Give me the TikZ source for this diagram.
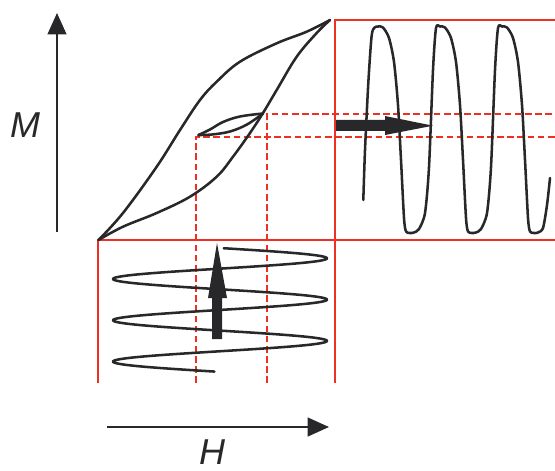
\documentclass[tikz,border=0pt]{standalone}
\usepackage{fontspec}
\setmainfont{Liberation Sans}
\usetikzlibrary{arrows.meta}
\definecolor{redline}{RGB}{238,48,34}
\definecolor{ink}{RGB}{40,40,42}
\tikzset{
  redsolid/.style={draw=redline, line width=2.1pt},
  reddash/.style={draw=redline, line width=2.1pt, dash pattern=on 5pt off 2.6pt},
  curve/.style={draw=ink, line width=1.9pt, line join=round, line cap=round},
  axis/.style={draw=ink, line width=1.7pt, -{Triangle[length=16pt, width=14pt]}},
  lbl/.style={font=\fontsize{27}{30}\selectfont\itshape, text=ink, inner sep=0pt},
  fatarrow/.style={fill=ink, draw=none}
}
\begin{document}
\begin{tikzpicture}[x=0.75pt, y=-0.75pt]
\useasboundingbox (0,0) rectangle (555,470);
% red frames
\draw[redsolid] (98,383) -- (98,240) -- (555,240);
\draw[redsolid] (335,383) -- (335,20) -- (555,20);
\draw[reddash] (196,383) -- (196,137) -- (555,137);
\draw[reddash] (267,383) -- (267,114) -- (555,114);
% axes
\coordinate (m0) at (57,232); \coordinate (m1) at (57,13);
\coordinate (h0) at (107,427); \coordinate (h1) at (329,427);
\draw[axis] (m0) -- (m1);
\draw[axis] (h0) -- (h1);
\node[lbl] (M) at (25,125) {M};
\node[lbl] (H) at (212,452) {H};
% hysteresis major loop
\draw[curve] plot[smooth, tension=0.6] coordinates {(98.5,240) (123,213) (156.7,166.7) (180,130) (200,100) (216.7,81.7) (240,61.7) (276.7,43.3) (306.7,31.7) (330,20)};
\draw[curve] plot[smooth, tension=0.6] coordinates {(98.5,240) (123,226.7) (156.7,213) (190,196.7) (216.7,176.7) (233,156.7) (250,133) (263,113) (276.7,90) (296.7,56.7) (316.7,33) (330,20)};
% minor loop
\draw[curve] plot[smooth, tension=0.6] coordinates {(198.5,135) (210,129.5) (223,122) (240,116.5) (263,113.5)};
\draw[curve] plot[smooth, tension=0.6] coordinates {(198.5,135) (212,134.5) (230,131.5) (247,124.5) (263,113.5)};
% spiral (bottom)
\draw[curve] plot[domain=2:1077, samples=300] ({220+107*sin(\x)}, {248+\x/360*41.3});
% vertical fat arrow
\fill[fatarrow] (212,339) -- (222,339) -- (222,298) -- (227,298) -- (217,243) -- (208,298) -- (212,298) -- cycle;
% square-ish wave (right)
\draw[curve] plot[smooth, tension=0.45] coordinates {
 (363.3,200) (365,150) (368.3,83) (371.5,37)
 (374,28) (378,26.5) (383,27.5) (389,38) (394,62) (398,105) (401,160) (404,218) (406,231.5) (410,233) (414,232.5) (419,229) (425,213) (429,167) (433,70)
 (436,28) (440,26.5) (445,27.5) (451,38) (456,62) (460,105) (463,160) (466,218) (468,231.5) (472,233) (476,232.5) (481,229) (487,213) (491,167) (495,70)
 (498,28) (502,26.5) (507,27.5) (513,38) (518,62) (522,105) (525,160) (528,218) (530,231.5) (534,233) (538,232.5) (543,228) (547,205) (550,178)};
% horizontal fat arrow
\fill[fatarrow] (336,120) -- (385,120) -- (385,116) -- (433,125.7) -- (385,135) -- (385,131) -- (336,131) -- cycle;
\end{tikzpicture}
\end{document}
